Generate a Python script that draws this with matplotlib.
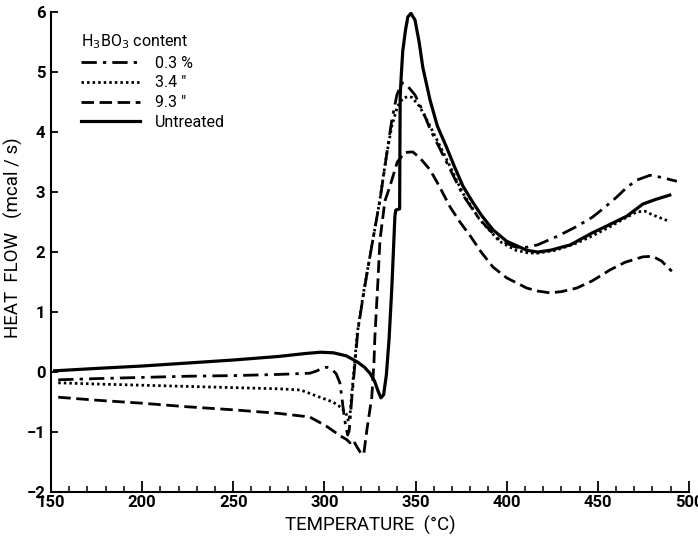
import matplotlib
matplotlib.use("Agg")
import matplotlib.pyplot as plt
from matplotlib.ticker import MultipleLocator

# Untreated (solid)
t_untreated = [152, 175, 200, 225, 250, 275, 290, 298, 305, 312, 318, 322, 325, 327.5, 329.5,
               331, 332.5, 334, 335.5, 337, 338.7, 339.2, 341.3, 341.4, 341.6, 342.2, 343, 344.5,
               345.8, 347.5, 349.7, 352, 354, 358, 362, 367, 371, 376, 381, 386, 392.5, 400, 411,
               417, 424, 435, 447, 456, 466, 474.7, 482, 489.5]
hf_untreated = [0.02, 0.06, 0.1, 0.15, 0.2, 0.26, 0.31, 0.33, 0.32, 0.27, 0.17, 0.08, -0.02, -0.15,
                -0.32, -0.43, -0.38, -0.05, 0.55, 1.4, 2.6, 2.7, 2.72, 3.5, 4.6, 4.95, 5.35, 5.7,
                5.92, 5.98, 5.87, 5.5, 5.08, 4.53, 4.1, 3.75, 3.45, 3.1, 2.85, 2.62, 2.37, 2.18, 2.03,
                2.0, 2.03, 2.12, 2.32, 2.45, 2.6, 2.8, 2.88, 2.95]

# 0.3 % H3BO3 (dash-dot)
t_03 = [154, 175, 200, 225, 250, 275, 292, 296, 299, 301.5, 304, 306.5, 308.5, 309.5, 310.5, 311.8,
        312.8, 313.6, 315.1, 316.8, 318.4, 322, 326, 330.5, 334.3, 337, 339.8, 342.5, 345.3, 349.7,
        354, 358, 367, 376, 385, 396, 405, 411, 417, 429, 438, 447, 454, 460.5, 466, 471.4, 478.6,
        484, 493.4]
hf_03 = [-0.13, -0.11, -0.09, -0.07, -0.06, -0.04, -0.02, 0.02, 0.07, 0.08, 0.05, -0.03, -0.18, -0.4,
         -0.65, -0.92, -1.05, -0.98, -0.42, 0.15, 0.7, 1.4, 2.1, 2.87, 3.65, 4.2, 4.62, 4.82, 4.78,
         4.62, 4.35, 4.05, 3.5, 2.95, 2.55, 2.2, 2.08, 2.08, 2.12, 2.28, 2.42, 2.58, 2.75, 2.92, 3.08,
         3.2, 3.28, 3.25, 3.18]

# 3.4 % H3BO3 (dotted)
t_34 = [154, 175, 200, 225, 250, 275, 287, 297.5, 304.7, 309.6, 312, 313.3, 314.1, 315.0, 316.5,
        318.1, 321.7, 325.7, 330.2, 334.0, 337, 340, 343, 345.5, 348, 352.4, 358, 367, 376, 385,
        396, 405, 411, 416.6, 427, 438.5, 447, 456.6, 464, 471.4, 476, 480, 488.5]
hf_34 = [-0.18, -0.2, -0.22, -0.24, -0.26, -0.28, -0.3, -0.42, -0.5, -0.6, -0.7, -0.82, -0.7, -0.38,
         0.12, 0.66, 1.36, 2.05, 2.82, 3.6, 4.1, 4.42, 4.56, 4.59, 4.58, 4.42, 4.1, 3.55, 2.98, 2.55,
         2.18, 2.03, 1.99, 1.98, 2.03, 2.15, 2.27, 2.42, 2.55, 2.67, 2.68, 2.62, 2.52]

# 9.3 % H3BO3 (dashed)
t_93 = [154, 175, 200, 225, 250, 275, 292, 301, 308.5, 312.4, 314, 315.7, 317.9, 320.6, 321.7, 323.3,
        326, 327.2, 327.7, 329.4, 330.5, 333.2, 336, 340, 344, 348.5, 352.4, 358, 363, 369, 374.4,
        380, 386, 392.5, 400, 411, 417, 423.7, 430, 438.5, 447, 456.6, 465, 474.7, 480, 485, 490.6]
hf_93 = [-0.42, -0.47, -0.52, -0.58, -0.63, -0.69, -0.75, -0.9, -1.06, -1.13, -1.18, -1.13, -1.25,
         -1.38, -1.35, -0.97, -0.42, 0.15, 0.58, 1.53, 2.2, 2.85, 3.1, 3.5, 3.66, 3.67, 3.57, 3.37,
         3.1, 2.75, 2.5, 2.27, 2.0, 1.75, 1.57, 1.4, 1.35, 1.32, 1.34, 1.4, 1.52, 1.7, 1.83, 1.92,
         1.93, 1.85, 1.68]

labels = ["0.3 %", "3.4 \u2033", "9.3 \u2033", "Untreated"]

plt.rcParams.update({
    "font.family": ["DejaVu Sans Condensed", "Liberation Sans Narrow", "Roboto", "DejaVu Sans"],
    "font.size": 11,
})

fig = plt.figure(figsize=(6.98, 5.41), dpi=100)
ax = fig.add_axes([0.073, 0.0906, 0.914, 0.887])

ax.plot(t_03, hf_03, color="black", lw=2.0, dashes=(5.5, 2.2, 1.2, 2.2), label=labels[0])
ax.plot(t_34, hf_34, color="black", lw=2.0, dashes=(0.9, 1.1), label=labels[1])
ax.plot(t_93, hf_93, color="black", lw=2.0, dashes=(4.5, 2.0), label=labels[2])
ax.plot(t_untreated, hf_untreated, color="black", lw=2.3, label=labels[3])

ax.set_xlim(150, 500)
ax.set_ylim(-2, 6)
ax.set_xticks(range(150, 501, 50))
ax.xaxis.set_minor_locator(MultipleLocator(10))
ax.set_yticks(range(-2, 7))
ax.tick_params(axis="x", which="major", direction="in", length=8, width=1.3, labelsize=12, pad=2)
ax.tick_params(axis="x", which="minor", direction="in", length=4, width=1.1)
ax.tick_params(axis="y", direction="in", length=5, width=1.3, labelsize=12, pad=4)
for lab in ax.get_xticklabels() + ax.get_yticklabels():
    lab.set_fontweight("bold")

for s in ["top", "right"]:
    ax.spines[s].set_visible(False)
for s in ["left", "bottom"]:
    ax.spines[s].set_linewidth(1.5)

ax.set_xlabel("TEMPERATURE  (\u00b0C)", fontsize=13.5, labelpad=4)
ax.set_ylabel("HEAT  FLOW   (mcal / s)", fontsize=13.5)
ax.yaxis.set_label_coords(-0.044, 0.53)

leg = ax.legend(loc="upper left", bbox_to_anchor=(0.035, 0.975), frameon=False,
                title="H$_3$BO$_3$ content", title_fontsize=11.5, fontsize=11.5,
                handlelength=3.7, handletextpad=0.9, labelspacing=0.3, borderpad=0,
                alignment="left")

fig.savefig("out.png", dpi=100)
